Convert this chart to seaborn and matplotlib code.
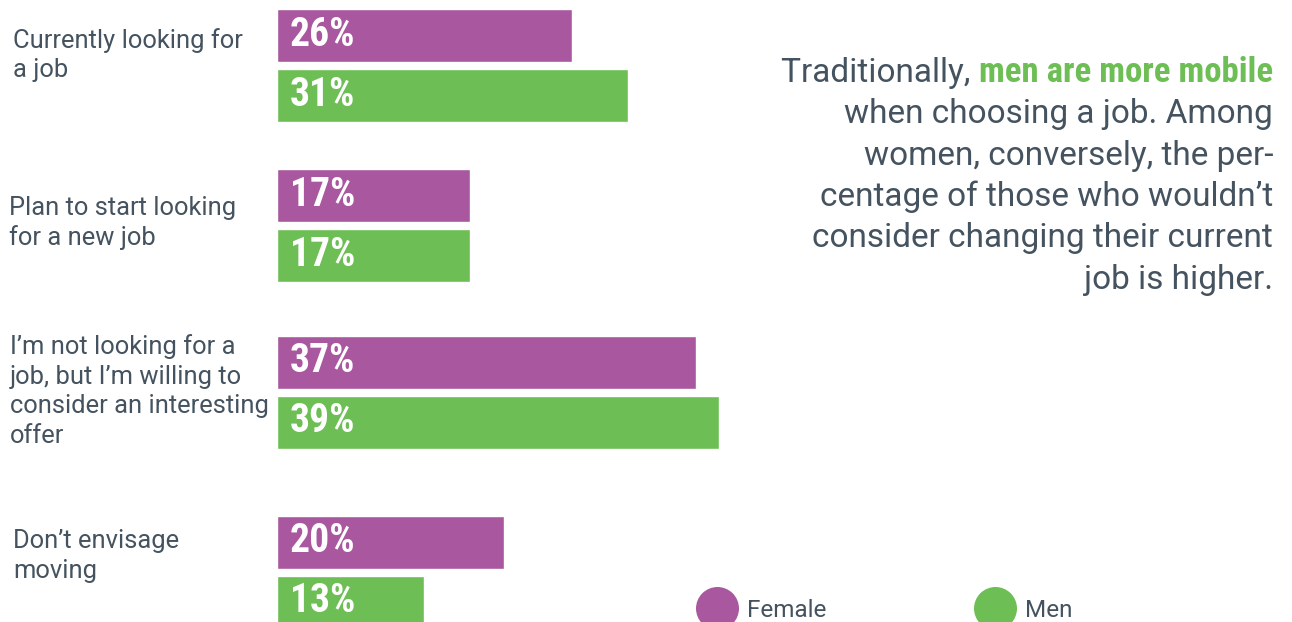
import numpy as np
import pandas as pd
import matplotlib
matplotlib.use("Agg")
import matplotlib.pyplot as plt
import seaborn as sns

# ---- data ----
categories = [
    "Currently looking for\na job",
    "Plan to start looking\nfor a new job",
    "I\u2019m not looking for a\njob, but I\u2019m willing to\nconsider an interesting\noffer",
    "Don\u2019t envisage\nmoving",
]
female = [26, 17, 37, 20]
men = [31, 17, 39, 13]
series_names = ["Female", "Men"]

# ---- layout (vertical bar centres in pixel rows of the canvas) ----
female_rows = [35.5, 195.5, 362.5, 542.5]
pair_gap = 60
label_rows = [55, 223, 391, 556]
label_x = [13, 9, 10, 13]

PURPLE = "#A9589F"
GREEN = "#6DBE54"
TEXT = "#44535F"

sns.set_theme(style="white")
plt.rcParams["font.family"] = ["Roboto", "DejaVu Sans"]
COND = ["Liberation Sans Narrow", "Roboto Condensed", "DejaVu Sans"]
BODY_WEIGHT = "normal"

W, H = 1292, 622
fig = plt.figure(figsize=(W / 100, H / 100), dpi=100)
ax = fig.add_axes([0, 0, 1, 1])

px_per_pct = 11.33
x0 = 277

rows = []
for i in range(len(categories)):
    rows.append({"pos": female_rows[i], "value": female[i], "gender": series_names[0]})
    rows.append({"pos": female_rows[i] + pair_gap, "value": men[i], "gender": series_names[1]})
df = pd.DataFrame(rows)

sns.barplot(
    data=df, x="value", y="pos", hue="gender", orient="y",
    native_scale=True, dodge=False, width=53 / pair_gap,
    palette={"Female": PURPLE, "Men": GREEN}, saturation=1,
    legend=False, ax=ax,
)

ax.set_xlim(-x0 / px_per_pct, (W - x0) / px_per_pct)
ax.set_ylim(H, 0)
ax.axis("off")

# value labels inside the bars
for _, r in df.iterrows():
    ax.annotate(f"{r['value']:g}%", xy=(0, r["pos"]), xytext=(13, 1),
                textcoords="offset pixels", ha="left", va="center",
                color="white", fontsize=28.5, fontweight="bold", family=COND)

# category labels on the left
to_x = lambda px: (px - x0) / px_per_pct
for lab, ly, lx in zip(categories, label_rows, label_x):
    ax.text(to_x(lx), ly, lab, ha="left", va="center", color=TEXT,
            fontsize=18.4, fontweight=BODY_WEIGHT, linespacing=1.3)

# side commentary, right aligned
right_px = 1273
para = [
    "when choosing a job. Among",
    "women, conversely, the per-",
    "centage of those who wouldn\u2019t",
    "consider changing their current",
    "job is higher.",
]
base_rows = [82, 123.5, 165, 206, 247.5, 289]
PARA_SIZE = 24.0
hl = ax.text(to_x(right_px), base_rows[0], "men are more mobile", ha="right",
             va="baseline", color=GREEN, fontsize=25, fontweight="bold", family=COND)
fig.canvas.draw()
bb = hl.get_window_extent()
fig.text(bb.x0 / W, 1 - base_rows[0] / H, "Traditionally,\u00a0", ha="right", va="baseline",
         color=TEXT, fontsize=PARA_SIZE, fontweight=BODY_WEIGHT)
for line, by in zip(para, base_rows[1:]):
    ax.text(to_x(right_px), by, line, ha="right", va="baseline", color=TEXT,
            fontsize=PARA_SIZE, fontweight=BODY_WEIGHT)

# legend markers
for name, col, cx in zip(series_names, [PURPLE, GREEN], [717, 995]):
    ax.scatter([to_x(cx)], [608], s=(43 * 0.72) ** 2, color=col, linewidths=0, clip_on=False)
    ax.text(to_x(cx + 30), 617, name, ha="left", va="baseline", color=TEXT,
            fontsize=17.5, fontweight=BODY_WEIGHT)

fig.savefig("out.png", dpi=100, facecolor="white")
